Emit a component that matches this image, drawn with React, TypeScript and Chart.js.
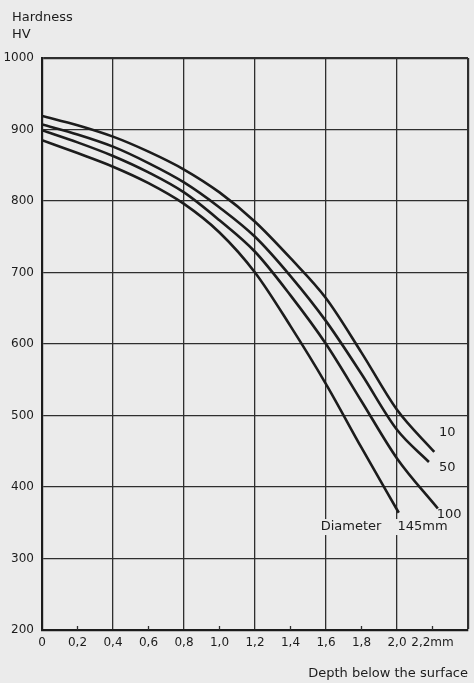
import React, { useEffect, useRef } from "react";
import { Chart, registerables } from "chart.js";

Chart.register(...registerables);

// Depth below the surface (mm) and hardness (HV) for each diameter
const depth10 = [0, 0.2, 0.4, 0.6, 0.8, 1.0, 1.2, 1.4, 1.6, 1.8, 2.0, 2.21];
const hardness10 = [919, 906, 890, 869, 844, 812, 771, 720, 664, 588, 508, 449];

const depth50 = [0, 0.2, 0.4, 0.6, 0.8, 1.0, 1.2, 1.4, 1.6, 1.8, 2.0, 2.18];
const hardness50 = [907, 893, 876, 853, 826, 791, 750, 695, 632, 558, 480, 435];

const depth100 = [0, 0.2, 0.4, 0.6, 0.8, 1.0, 1.2, 1.4, 1.6, 1.8, 2.0, 2.23];
const hardness100 = [899, 882, 863, 840, 812, 773, 729, 668, 600, 520, 440, 370];

const depth145 = [0, 0.2, 0.4, 0.6, 0.8, 1.0, 1.2, 1.4, 1.6, 1.8, 2.01];
const hardness145 = [885, 867, 848, 825, 796, 756, 700, 625, 544, 455, 364];

const seriesNames = ["10", "50", "100", "145"];

const xTickLabels = ["0", "0,2", "0,4", "0,6", "0,8", "1,0", "1,2", "1,4", "1,6", "1,8", "2,0", "2,2mm", ""];
const yTickLabels = ["200", "300", "400", "500", "600", "700", "800", "900", "1000"];
const yAxisTitle = ["Hardness", "HV"];

// Curve annotations, anchored in data coordinates
const curveLabels = [
  { text: "10", x: 2.283, y: 476, align: "center", bg: false },
  { text: "50", x: 2.283, y: 427, align: "center", bg: false },
  { text: "100", x: 2.294, y: 361, align: "center", bg: false },
  { text: "Diameter", x: 1.57, y: 344, align: "left", bg: true },
  { text: "145mm", x: 2.003, y: 344, align: "left", bg: true },
];

const PAPER = "#ebebeb";
const INK = "#1c1c1c";
const GRID = "#2e2e2e";
const FONT = "'DejaVu Sans', sans-serif";

const overlayPlugin = {
  id: "overlay",
  afterDatasetsDraw(chart: any) {
    const { ctx, chartArea } = chart;
    const x = chart.scales.x;
    const y = chart.scales.y;
    ctx.save();
    // short inner tick marks at the odd 0.2 steps
    ctx.strokeStyle = GRID;
    ctx.lineWidth = 1.3;
    x.ticks.forEach((t: any, i: number) => {
      if (i % 2 === 1) {
        const px = x.getPixelForValue(t.value);
        ctx.beginPath();
        ctx.moveTo(px, chartArea.bottom);
        ctx.lineTo(px, chartArea.bottom - 4);
        ctx.stroke();
      }
    });
    ctx.font = "13px " + FONT;
    ctx.textBaseline = "middle";
    curveLabels.forEach((l) => {
      const px = x.getPixelForValue(l.x);
      const py = y.getPixelForValue(l.y);
      ctx.textAlign = l.align as CanvasTextAlign;
      const w = ctx.measureText(l.text).width;
      if (l.bg) {
        ctx.fillStyle = PAPER;
        const left = l.align === "center" ? px - w / 2 : px;
        ctx.fillRect(left - 2, py - 8, w + 4, 16);
      }
      ctx.fillStyle = INK;
      ctx.fillText(l.text, px, py);
    });
    // y-axis heading above the axis
    ctx.textAlign = "left";
    ctx.fillStyle = INK;
    yAxisTitle.forEach((line, i) => {
      ctx.fillText(line, chartArea.left - 30, chartArea.top - 40 + i * 17);
    });
    ctx.restore();
  },
};

export default function App() {
  const ref = useRef<HTMLCanvasElement | null>(null);

  useEffect(() => {
    if (!ref.current) return;
    const mk = (d: number[], h: number[], name: string) => ({
      label: name,
      data: d.map((v, i) => ({ x: v, y: h[i] })),
      borderColor: INK,
      borderWidth: 2.6,
      pointRadius: 0,
      fill: false,
      cubicInterpolationMode: "monotone" as const,
    });
    const chart = new Chart(ref.current, {
      type: "line",
      data: {
        datasets: [
          mk(depth10, hardness10, seriesNames[0]),
          mk(depth50, hardness50, seriesNames[1]),
          mk(depth100, hardness100, seriesNames[2]),
          mk(depth145, hardness145, seriesNames[3]),
        ],
      },
      options: {
        animation: false,
        responsive: false,
        layout: { padding: { left: 0, right: 4, top: 58, bottom: 0 } },
        plugins: {
          legend: { display: false },
          tooltip: { enabled: false },
        },
        scales: {
          x: {
            type: "linear",
            min: 0,
            max: 2.4,
            afterFit: (s: any) => {
              s.height = 53;
            },
            ticks: {
              stepSize: 0.2,
              autoSkip: false,
              maxRotation: 0,
              padding: 6,
              color: INK,
              font: { family: FONT, size: 12 },
              callback: (v: any) => xTickLabels[Math.round(Number(v) / 0.2)] ?? "",
            },
            grid: {
              drawTicks: false,
              color: (c: any) => (c.index % 2 === 0 ? GRID : "rgba(0,0,0,0)"),
              lineWidth: (c: any) => (c.index === 12 ? 2.2 : 1.3),
            },
            border: { display: true, color: INK, width: 2.2 },
            title: {
              display: true,
              text: "Depth below the surface",
              align: "end",
              color: INK,
              font: { family: FONT, size: 13 },
              padding: { top: 0, bottom: 2 },
            },
          },
          y: {
            type: "linear",
            min: 200,
            max: 1000,
            afterFit: (s: any) => {
              s.width = 42;
            },
            ticks: {
              stepSize: 100,
              padding: 8,
              color: INK,
              font: { family: FONT, size: 12 },
              callback: (v: any) => yTickLabels[Math.round((Number(v) - 200) / 100)] ?? "",
            },
            grid: {
              drawTicks: false,
              color: GRID,
              lineWidth: (c: any) => (c.tick && c.tick.value === 1000 ? 2.2 : 1.3),
            },
            border: { display: true, color: INK, width: 2.2 },
          },
        },
      },
      plugins: [overlayPlugin],
    });
    return () => chart.destroy();
  }, []);

  return (
    <div
      style={{
        position: "absolute",
        left: 0,
        top: 0,
        width: 474,
        height: 683,
        background: PAPER,
      }}
    >
      <canvas ref={ref} width={474} height={683} style={{ display: "block" }} />
    </div>
  );
}
